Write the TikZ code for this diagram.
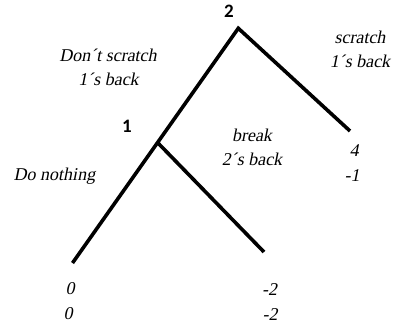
\documentclass[tikz,border=0pt]{standalone}
\usepackage{fontspec}
\newfontfamily\tnrsl{Liberation Serif}[FakeSlant=0.2]
\newfontfamily\lblfont{Carlito}
\begin{document}
\begin{tikzpicture}[x=1pt,y=-1pt,
  branch/.style={line width=3.6pt},
  lab/.style={font=\fontsize{18}{24}\selectfont\tnrsl, inner sep=0pt, anchor=base},
  pl/.style={font=\lblfont\bfseries\fontsize{19}{20}\selectfont, inner sep=0pt, anchor=base}]
\useasboundingbox (0,0) rectangle (393,326);
\coordinate (r) at (238.3,28.3);
\coordinate (a) at (350,131);
\coordinate (n1) at (158,143);
\coordinate (b) at (72.5,263);
\coordinate (c) at (264,252);
\draw[branch] (a) -- (r) -- (b);
\draw[branch] (n1) -- (c);
\node[pl] (p2) at (229,17.3) {2};
\node[pl] (p1) at (127,132) {1};
\node[lab] (l1a) at (108,62) {Don´t scratch};
\node[lab] (l1b) at (108.5,86) {1´s back};
\node[lab] (l2a) at (360,44) {scratch};
\node[lab] (l2b) at (360,68) {1´s back};
\node[lab] (l3a) at (252,141) {break};
\node[lab] (l3b) at (252,165) {2´s back};
\node[lab] (l4) at (54.5,180) {Do nothing};
\node[lab] (l5a) at (354,156) {4};
\node[lab] (l5b) at (352,181) {-1};
\node[lab] (l6a) at (70,294.7) {0};
\node[lab] (l6b) at (68,319.7) {0};
\node[lab] (l7a) at (269.5,295) {-2};
\node[lab] (l7b) at (270,320) {-2};
\end{tikzpicture}
\end{document}
